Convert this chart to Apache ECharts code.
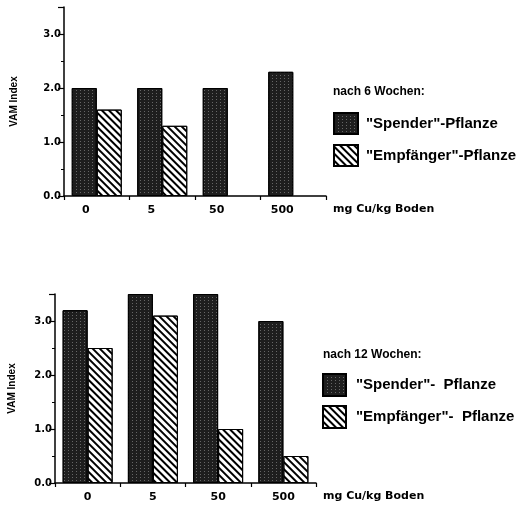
<!DOCTYPE html>
<html>
<head>
<meta charset="utf-8">
<script src="https://cdn.jsdelivr.net/npm/echarts@6/dist/echarts.min.js"></script>
<style>
html,body{margin:0;padding:0;background:#fff;}
#c{width:522px;height:505px;}
</style>
</head>
<body>
<div id="c"></div>
<script>
// ---- data ----
const categories = ['0', '5', '50', '500'];
const spender6 = [2.0, 2.0, 2.0, 2.3];
const empfaenger6 = [1.6, 1.3, null, null];
const spender12 = [3.2, 3.5, 3.5, 3.0];
const empfaenger12 = [2.5, 3.1, 1.0, 0.5];
const yTickLabels = ['0.0', '1.0', '2.0', '3.0'];
const names6 = ['"Spender"-Pflanze', '"Empfänger"-Pflanze'];
const names12 = ['"Spender"-  Pflanze', '"Empfänger"-  Pflanze'];
const titles = ['nach 6 Wochen:', 'nach 12 Wochen:'];
const xName = 'mg Cu/kg Boden';
const yName = 'VAM Index';

const SANS = '"Liberation Sans", Arial, sans-serif';
const DJ = '"DejaVu Sans", sans-serif';

const stipple = {
  color: '#1e1e1e',
  borderColor: '#000',
  borderWidth: 1,
  decal: {
    symbol: 'rect', symbolSize: 1,
    dashArrayX: [1, 2.5], dashArrayY: [1, 2],
    color: 'rgba(255,255,255,0.32)'
  }
};
const hatch = {
  color: '#fff',
  borderColor: '#000',
  borderWidth: 1,
  decal: {
    symbol: 'rect', symbolSize: 1,
    dashArrayX: [1, 0], dashArrayY: [1.7, 2.3],
    rotation: Math.PI / 4,
    color: '#000'
  }
};

function yAxis(gridIndex, gap) {
  return {
    type: 'value', gridIndex, min: 0, max: 3.5, interval: 1,
    name: yName, nameLocation: 'middle', nameRotate: 90, nameGap: gap,
    nameTextStyle: { fontFamily: SANS, fontWeight: 'bold', fontSize: 10, color: '#000' },
    axisLine: { show: true, lineStyle: { color: '#000', width: 1.5 } },
    axisTick: { show: true, length: 6, lineStyle: { color: '#000', width: 1.2 } },
    minorTick: { show: true, splitNumber: 2, length: 3, lineStyle: { color: '#000', width: 1 } },
    splitLine: { show: false },
    minorSplitLine: { show: false },
    axisLabel: {
      showMaxLabel: false, margin: 3,
      fontFamily: DJ, fontWeight: 'bold', fontSize: 10, color: '#000',
      formatter: v => { const i = Math.round(v); return (Math.abs(v - i) < 1e-6 && yTickLabels[i] !== undefined) ? yTickLabels[i] : ''; }
    }
  };
}
function xAxis(gridIndex, pad) {
  return {
    type: 'category', gridIndex, data: categories,
    name: xName, nameLocation: 'end', nameGap: 7,
    nameTextStyle: { fontFamily: DJ, fontWeight: 'bold', fontSize: 11, color: '#000',
      align: 'left', verticalAlign: 'top', padding: [8, 0, 0, 0] },
    axisLine: { show: true, lineStyle: { color: '#000', width: 1.5 } },
    axisTick: { show: true, length: 4, lineStyle: { color: '#000', width: 1.2 } },
    axisLabel: { fontFamily: DJ, fontWeight: 'bold', fontSize: 11, color: '#000', margin: 9, padding: pad }
  };
}
const legendText = { fontFamily: SANS, fontWeight: 'bold', fontSize: 15, color: '#000', padding: [0, 0, 0, 3] };
const titleText = { fontFamily: SANS, fontWeight: 'bold', fontSize: 12, color: '#000' };

const option = {
  animation: false,
  backgroundColor: '#fff',
  title: [
    { text: titles[0], left: 333, top: 86, padding: 0, textStyle: titleText },
    { text: titles[1], left: 323, top: 349, padding: 0, textStyle: titleText }
  ],
  legend: [
    { data: names6, orient: 'vertical', left: 333, top: 112, padding: 0, itemWidth: 24, itemHeight: 21, itemGap: 9,
      icon: 'rect', textStyle: legendText, selectedMode: false },
    { data: names12, orient: 'vertical', left: 322, top: 373, padding: 0, itemWidth: 23, itemHeight: 22, itemGap: 8,
      icon: 'rect', textStyle: Object.assign({}, legendText, { padding: [0, 0, 0, 5] }), selectedMode: false }
  ],
  grid: [
    { left: 64, top: 7, width: 262, height: 189 },
    { left: 55, top: 294, width: 261, height: 189 }
  ],
  xAxis: [xAxis(0, [0, 22, 0, 0]), xAxis(1, [0, 0, 0, 0])],
  yAxis: [yAxis(0, 45), yAxis(1, 38)],
  series: [
    { type: 'bar', name: names6[0], xAxisIndex: 0, yAxisIndex: 0, data: spender6, barWidth: 25, barGap: '0%', itemStyle: stipple },
    { type: 'bar', name: names6[1], xAxisIndex: 0, yAxisIndex: 0, data: empfaenger6, barWidth: 25, barGap: '0%', itemStyle: hatch },
    { type: 'bar', name: names12[0], xAxisIndex: 1, yAxisIndex: 1, data: spender12, barWidth: 25, barGap: '0%', itemStyle: stipple },
    { type: 'bar', name: names12[1], xAxisIndex: 1, yAxisIndex: 1, data: empfaenger12, barWidth: 25, barGap: '0%', itemStyle: hatch }
  ]
};
const chart = echarts.init(document.getElementById('c'), null, { renderer: 'canvas' });
chart.setOption(option);
</script>
</body>
</html>
